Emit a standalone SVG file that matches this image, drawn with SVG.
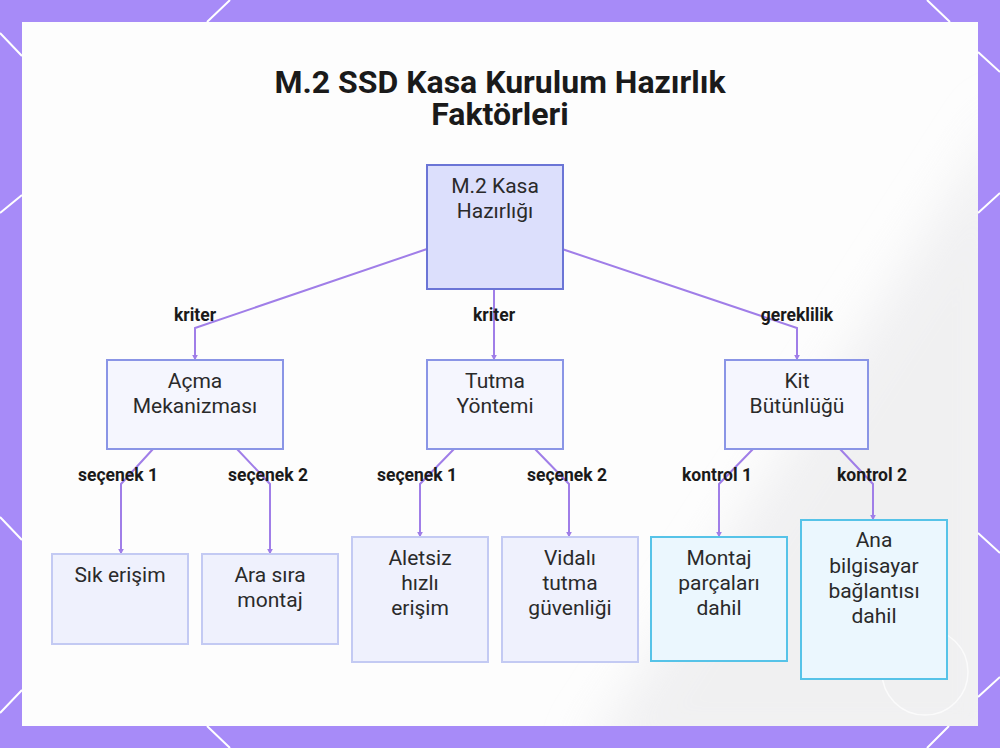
<svg xmlns="http://www.w3.org/2000/svg" width="1000" height="748" viewBox="0 0 1000 748">
<defs>
<style>
.bgline{stroke:#ffffff;stroke-width:2;fill:none}
.edge{stroke:#a07ee8;stroke-width:2;fill:none;marker-end:url(#arr)}
.elab{font-family:Roboto,"Liberation Sans",sans-serif;font-weight:bold;font-size:17.5px;fill:#1a1a1a;text-anchor:middle}
.ntxt{font-family:Roboto,"Liberation Sans",sans-serif;font-size:21px;fill:#2a2a2a;text-anchor:middle}
.root{fill:#dcdffc;stroke:#6b75d6;stroke-width:2}
.mid{fill:#f5f6fe;stroke:#8a95e6;stroke-width:2}
.leafp{fill:#eff1fd;stroke:#c3caf3;stroke-width:2}
.leafc{fill:#ebf7fe;stroke:#56c3e8;stroke-width:2}
</style>
<marker id="arr" viewBox="0 0 10 10" refX="9" refY="5" markerWidth="3" markerHeight="3" orient="auto">
<path d="M0,0 L10,5 L0,10 z" fill="#a07ee8"/>
</marker>
<filter id="blur" x="-20%" y="-20%" width="140%" height="140%">
<feGaussianBlur stdDeviation="25"/>
</filter>
</defs>
<rect x="0" y="0" width="1000" height="748" fill="#a78bf8"/>
<g id="decor">
<path class="bgline" d="M0,33 L22,56 M0,213 L22,195 M0,517 L22,540 M0,713 L22,690 M207,22 L230,0 M927,0 L950,22 M978,52 L1000,72 M978,213 L1000,193 M978,533 L1000,553 M978,697 L1000,677 M927,748 L949,726 M207,726 L230,748"/>
<rect x="22" y="22" width="956" height="704" fill="#fdfdfd"/>
<svg x="22" y="22" width="956" height="704" overflow="hidden">
<polygon points="990,80 990,740 560,740" fill="#ececee" opacity="0.75" filter="url(#blur)"/>
</svg>
<circle cx="925" cy="672" r="43" fill="none" stroke="#ffffff" stroke-width="1.5" opacity="0.7"/>
</g>
<g id="title">
<text x="500" y="93" font-family="Roboto,'Liberation Sans',sans-serif" font-weight="bold" font-size="32" fill="#1a1a1a" text-anchor="middle">M.2 SSD Kasa Kurulum Hazırlık</text>
<text x="500" y="125" font-family="Roboto,'Liberation Sans',sans-serif" font-weight="bold" font-size="32" fill="#1a1a1a" text-anchor="middle">Faktörleri</text>
</g>
<g id="connectors">
<polyline class="edge" points="427,249 195,328 195,360"/>
<polyline class="edge" points="494,289 494,360"/>
<polyline class="edge" points="562,249 797,328 797,360"/>
<polyline class="edge" points="153,449 121,484 121,554"/>
<polyline class="edge" points="237,449 270,484 270,554"/>
<polyline class="edge" points="454,449 420,484 420,537"/>
<polyline class="edge" points="535,449 569,484 569,537"/>
<polyline class="edge" points="753,449 719,484 719,537"/>
<polyline class="edge" points="840,449 873,484 873,520"/>
<text class="elab" x="195" y="321">kriter</text>
<text class="elab" x="494" y="321">kriter</text>
<text class="elab" x="797" y="321">gereklilik</text>
<text class="elab" x="118" y="481">seçenek 1</text>
<text class="elab" x="268" y="481">seçenek 2</text>
<text class="elab" x="417" y="481">seçenek 1</text>
<text class="elab" x="567" y="481">seçenek 2</text>
<text class="elab" x="717" y="481">kontrol 1</text>
<text class="elab" x="872" y="481">kontrol 2</text>
</g>
<g id="n-root">
<rect class="root" x="427" y="165" width="136" height="124"/>
<text class="ntxt" x="495" y="193">M.2 Kasa</text>
<text class="ntxt" x="495" y="218">Hazırlığı</text>
</g>
<g id="n-acma">
<rect class="mid" x="107" y="360" width="176" height="89"/>
<text class="ntxt" x="195" y="388">Açma</text>
<text class="ntxt" x="195" y="413">Mekanizması</text>
</g>
<g id="n-tutma">
<rect class="mid" x="427" y="360" width="136" height="89"/>
<text class="ntxt" x="495" y="388">Tutma</text>
<text class="ntxt" x="495" y="413">Yöntemi</text>
</g>
<g id="n-kit">
<rect class="mid" x="725" y="360" width="143" height="89"/>
<text class="ntxt" x="797" y="388">Kit</text>
<text class="ntxt" x="797" y="413">Bütünlüğü</text>
</g>
<g id="n-sik">
<rect class="leafp" x="52" y="554" width="136" height="90"/>
<text class="ntxt" x="120" y="582">Sık erişim</text>
</g>
<g id="n-ara">
<rect class="leafp" x="202" y="554" width="136" height="90"/>
<text class="ntxt" x="270" y="582">Ara sıra</text>
<text class="ntxt" x="270" y="607">montaj</text>
</g>
<g id="n-aletsiz">
<rect class="leafp" x="352" y="537" width="136" height="125"/>
<text class="ntxt" x="420" y="565">Aletsiz</text>
<text class="ntxt" x="420" y="590">hızlı</text>
<text class="ntxt" x="420" y="615">erişim</text>
</g>
<g id="n-vidali">
<rect class="leafp" x="502" y="537" width="136" height="125"/>
<text class="ntxt" x="570" y="565">Vidalı</text>
<text class="ntxt" x="570" y="590">tutma</text>
<text class="ntxt" x="570" y="615">güvenliği</text>
</g>
<g id="n-montaj">
<rect class="leafc" x="651" y="537" width="136" height="124"/>
<text class="ntxt" x="719" y="565">Montaj</text>
<text class="ntxt" x="719" y="590">parçaları</text>
<text class="ntxt" x="719" y="615">dahil</text>
</g>
<g id="n-ana">
<rect class="leafc" x="801" y="520" width="146" height="159"/>
<text class="ntxt" x="874" y="547">Ana</text>
<text class="ntxt" x="874" y="573">bilgisayar</text>
<text class="ntxt" x="874" y="598">bağlantısı</text>
<text class="ntxt" x="874" y="623">dahil</text>
</g>
</svg>
